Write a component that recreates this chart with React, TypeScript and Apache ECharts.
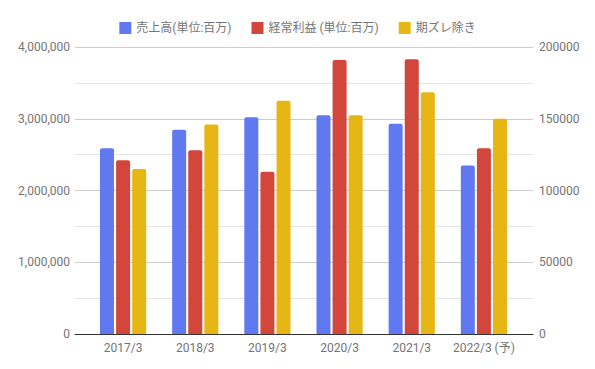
import React, { useEffect, useRef } from "react";
import * as echarts from "echarts";

const categories = ["2017/3", "2018/3", "2019/3", "2020/3", "2021/3", "2022/3 (予)"];
const salesValues = [2590000, 2845000, 3020000, 3050000, 2930000, 2350000];
const ordinaryProfit = [121000, 128000, 113000, 191000, 191500, 129500];
const excludingShift = [115000, 146000, 162500, 152500, 168500, 150000];
const seriesNames = ["売上高(単位:百万)", "経常利益 (単位:百万)", "期ズレ除き"];
const colors = ["#6079F0", "#D2463B", "#E6B714"];

export default function App() {
  const ref = useRef<HTMLDivElement>(null);
  useEffect(() => {
    if (!ref.current) return;
    const chart = echarts.init(ref.current, undefined, { renderer: "svg" });
    const font = "Roboto, 'Noto Sans CJK JP', sans-serif";
    const labelColor = "#757575";
    chart.setOption({
      animation: false,
      textStyle: { fontFamily: font },
      legend: {
        top: 17,
        left: "center",
        itemWidth: 12,
        itemHeight: 12,
        itemGap: 20,
        icon: "rect",
        textStyle: { color: labelColor, fontSize: 12, fontFamily: font },
        data: seriesNames,
      },
      grid: [
        { left: 75, right: 62, top: 47, bottom: 35 },
        { left: 87, right: 75, top: 47, bottom: 35 },
      ],
      xAxis: [
        {
          gridIndex: 0,
          type: "category",
          data: categories,
          axisLine: { show: true, lineStyle: { color: "#333333", width: 1 } },
          axisTick: { show: false },
          axisLabel: { show: false },
          splitLine: { show: false },
          z: 5,
        },
        {
          gridIndex: 1,
          type: "category",
          data: categories,
          axisLine: { show: false },
          axisTick: { show: false },
          axisLabel: { color: labelColor, fontSize: 12, margin: 8, interval: 0, fontFamily: font },
        },
      ],
      yAxis: [
        {
          gridIndex: 0,
          type: "value",
          min: 0,
          max: 4000000,
          interval: 1000000,
          position: "left",
          axisLine: { show: false },
          axisTick: { show: false },
          axisLabel: {
            color: labelColor,
            fontSize: 12,
            margin: 5,
            formatter: (v: number) => v.toLocaleString("en-US"),
          },
          splitLine: { show: true, lineStyle: { color: "#cccccc" } },
          minorTick: { show: false, splitNumber: 2 },
          minorSplitLine: { show: true, lineStyle: { color: "#e6e6e6" } },
        },
        {
          gridIndex: 0,
          type: "value",
          min: 0,
          max: 200000,
          interval: 50000,
          position: "right",
          axisLine: { show: false },
          axisTick: { show: false },
          axisLabel: { color: labelColor, fontSize: 12, margin: 6, formatter: (v: number) => String(v) },
          splitLine: { show: false },
        },
        {
          gridIndex: 1,
          type: "value",
          min: 0,
          max: 4000000,
          show: false,
          splitLine: { show: false },
        },
        {
          gridIndex: 1,
          type: "value",
          min: 0,
          max: 200000,
          show: false,
          splitLine: { show: false },
        },
      ],
      series: [
        {
          name: seriesNames[0],
          type: "bar",
          xAxisIndex: 1,
          yAxisIndex: 2,
          data: salesValues,
          barWidth: 14,
          barGap: "15%",
          itemStyle: { color: colors[0], borderRadius: [2, 2, 0, 0] },
        },
        {
          name: seriesNames[1],
          type: "bar",
          xAxisIndex: 1,
          yAxisIndex: 3,
          data: ordinaryProfit,
          barWidth: 14,
          barGap: "15%",
          itemStyle: { color: colors[1], borderRadius: [2, 2, 0, 0] },
        },
        {
          name: seriesNames[2],
          type: "bar",
          xAxisIndex: 1,
          yAxisIndex: 3,
          data: excludingShift,
          barWidth: 14,
          barGap: "15%",
          itemStyle: { color: colors[2], borderRadius: [2, 2, 0, 0] },
        },
      ],
    });
    return () => chart.dispose();
  }, []);
  return <div ref={ref} style={{ width: 595, height: 369, position: "absolute", left: 0, top: 0 }} />;
}
